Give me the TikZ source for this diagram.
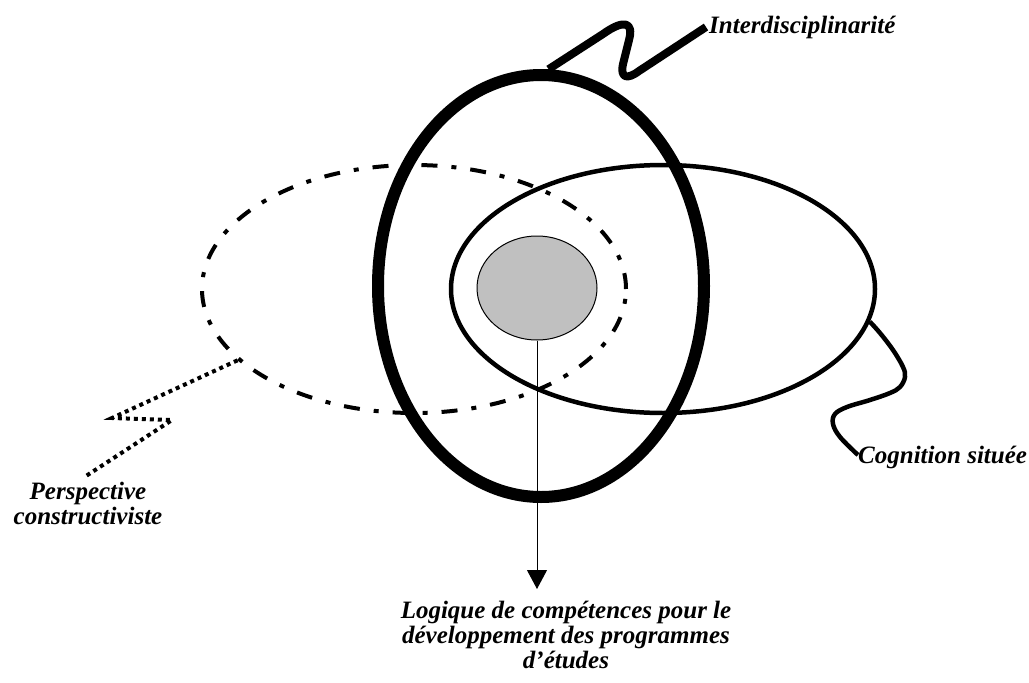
\documentclass[tikz,border=0pt]{standalone}
\usepackage{fontspec}
\setmainfont{Liberation Serif}
\usetikzlibrary{shapes.geometric,arrows.meta}
\begin{document}
\begin{tikzpicture}[x=1pt,y=-1pt,
  lbl/.style={font=\fontsize{25}{25}\selectfont\bfseries\itshape, inner sep=0pt},
  oval/.style={ellipse, draw=black, inner sep=0pt},
  thickoval/.style={oval, line width=12pt},
  thinoval/.style={oval, line width=4.5pt},
  dashoval/.style={oval, line width=4pt, dash pattern=on 16pt off 14pt on 5pt off 14pt},
  coreoval/.style={oval, line width=1pt, fill={rgb,255:red,192;green,192;blue,192}},
  wavy/.style={line width=8pt, line cap=butt, line join=round},
  thinwave/.style={line width=4.5pt, line join=round},
  dotwave/.style={line width=4pt, dash pattern=on 4pt off 4pt},
]
\useasboundingbox (0,0) rectangle (1029,683);
% ellipses
\node[dashoval, minimum width=424pt, minimum height=248pt] (persp) at (414,289) {};
\node[thinoval, minimum width=424pt, minimum height=248pt] (cogn) at (663,289) {};
\node[thickoval, minimum width=326pt, minimum height=422pt] (inter) at (541,286) {};
\node[coreoval, minimum width=120pt, minimum height=104pt] (core) at (537,288) {};
% labels
\node[lbl, anchor=base west] (tinter) at (709,33) {Interdisciplinarité};
\node[lbl, anchor=base west] (tcogn) at (858,463) {Cognition située};
\node[lbl, anchor=north, align=center] (tpersp) at (88,482) {Perspective\\constructiviste};
\node[lbl, anchor=north, align=center] (tlog) at (566,601) {Logique de compétences pour le\\développement des programmes\\d’études};
% connector ends
\coordinate (einter) at (706,27);
\coordinate (ecogn) at (858,455);
\coordinate (epersp) at (86,476);
\coordinate (elog) at (537,589);
% connectors
\draw[wavy] (inter.88) -- (603,34) .. controls (624,19) and (634,22) .. (629,40) -- (623,64) .. controls (620,78) and (627,80) .. (639,71) -- (einter);
\draw[thinwave] plot[smooth, tension=0.6] coordinates {(cogn.-9) (880,333) (893,350) (903,367) (905,377) (900,387) (890,393) (870,400) (847,407) (835,414) (833,424) (840,437) (ecogn)};
\draw[dotwave] (persp.202) -- (112,418) -- (172,420) -- (epersp);
\draw[line width=1pt, -{Triangle[width=20pt,length=19pt]}] (core.south) -- (elog);
\end{tikzpicture}
\end{document}
